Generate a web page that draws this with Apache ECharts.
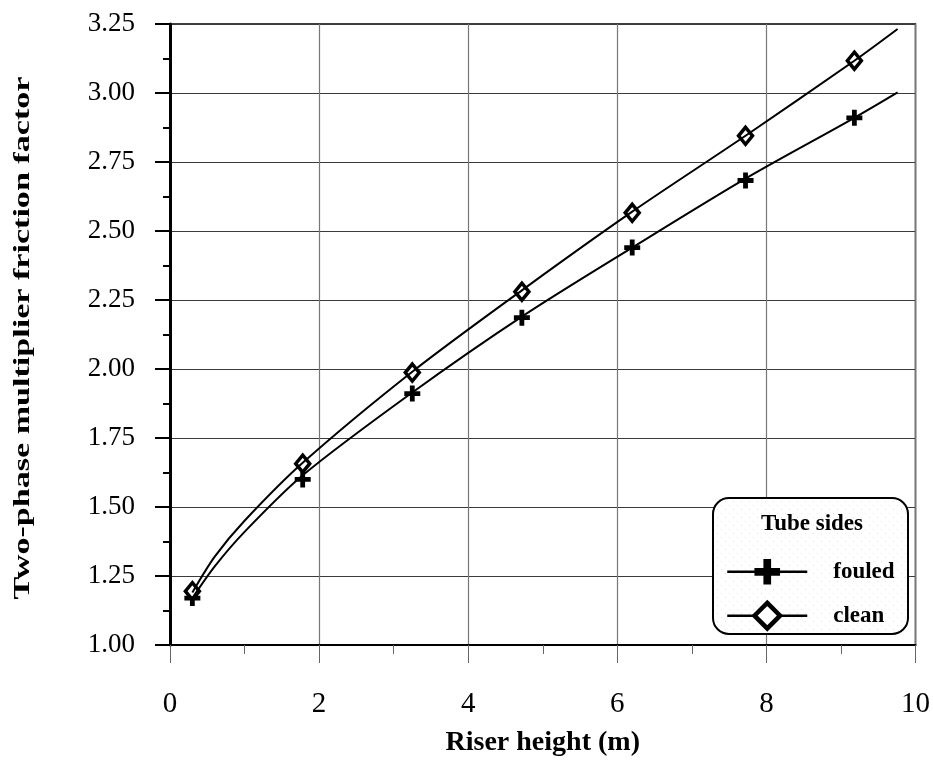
<!DOCTYPE html>
<html>
<head>
<meta charset="utf-8">
<script src="https://cdn.jsdelivr.net/npm/echarts@6/dist/echarts.min.js"></script>
<style>
  html, body { margin: 0; padding: 0; background: #fff; }
  #chart { width: 933px; height: 762px; }
</style>
</head>
<body>
<div id="chart"></div>
<script>
// measured points (markers)
const riserHeight = [0.3, 1.78, 3.25, 4.72, 6.2, 7.72, 9.18];
const fouled = [1.17, 1.6, 1.911, 2.186, 2.44, 2.683, 2.91];
const clean = [1.195, 1.657, 1.987, 2.28, 2.566, 2.845, 3.117];

// fitted curves
const fitHeight = [0.3, 0.6, 1.0, 1.78, 3.25, 4.72, 6.2, 7.72, 9.18, 9.76];
const fouledFit = [1.17, 1.285, 1.41, 1.615, 1.915, 2.19, 2.44, 2.69, 2.91, 3.002];
const cleanFit = [1.19, 1.32, 1.45, 1.66, 1.99, 2.285, 2.57, 2.845, 3.117, 3.232];

const FONT = "'Liberation Serif', 'Times New Roman', serif";
const PLUS = 'path://M35,0H65V35H100V65H65V100H35V65H0V35H35Z';

const pair = (xs, ys) => xs.map((x, i) => [x, ys[i]]);

// faint dotted fill of the legend box
const dots = document.createElement('canvas');
dots.width = 8; dots.height = 8;
const dctx = dots.getContext('2d');
dctx.fillStyle = '#fff';
dctx.fillRect(0, 0, 8, 8);
dctx.fillStyle = '#e4e4e4';
dctx.fillRect(1, 1, 1, 1);
dctx.fillRect(5, 5, 1, 1);

const chart = echarts.init(document.getElementById('chart'));

const option = {
  animation: false,
  backgroundColor: '#fff',
  grid: {
    left: 170, right: 17, top: 24, bottom: 116,
    show: true, borderColor: '#000', borderWidth: 1.5
  },
  xAxis: {
    type: 'value', min: 0, max: 10, interval: 2,
    name: 'Riser height (m)',
    nameLocation: 'middle',
    nameGap: 84,
    nameTextStyle: { fontFamily: FONT, fontWeight: 'bold', fontSize: 28, color: '#000' },
    axisLine: { lineStyle: { color: '#000', width: 2 } },
    axisTick: { show: true, length: 18, lineStyle: { color: '#666', width: 1 } },
    minorTick: { show: true, splitNumber: 2, length: 9, lineStyle: { color: '#666', width: 1 } },
    splitLine: { show: true, lineStyle: { color: '#777', width: 1.2 } },
    axisLabel: { fontFamily: FONT, fontSize: 29, color: '#000', margin: 45 }
  },
  yAxis: {
    type: 'value', min: 1, max: 3.25, interval: 0.25,
    axisLine: { show: true, lineStyle: { color: '#000', width: 3 } },
    axisTick: { show: true, length: 15, lineStyle: { color: '#000', width: 2 } },
    minorTick: { show: true, splitNumber: 2, length: 7, lineStyle: { color: '#000', width: 2 } },
    splitLine: { show: true, lineStyle: { color: '#3a3a3a', width: 1.2 } },
    axisLabel: {
      fontFamily: FONT, fontSize: 27, color: '#000', margin: 35,
      formatter: v => v.toFixed(2)
    }
  },
  legend: {
    orient: 'vertical',
    left: 721, top: 554,
    itemWidth: 80, itemHeight: 32, itemGap: 16,
    selectedMode: false,
    data: ['fouled', 'clean'],
    lineStyle: { width: 2.5 },
    itemStyle: { borderWidth: 'inherit' },
    textStyle: { fontFamily: FONT, fontWeight: 'bold', fontSize: 23, color: '#000', padding: [0, 0, 0, 21] }
  },
  graphic: [
    {
      type: 'rect', z: 3,
      shape: { x: 713, y: 498, width: 195, height: 136, r: 16 },
      style: { fill: { image: dots, repeat: 'repeat' }, stroke: '#000', lineWidth: 2 }
    },
    {
      type: 'text', z: 4, x: 812, y: 524,
      style: { text: 'Tube sides', font: "bold 23px " + FONT, fill: '#000', align: 'center', verticalAlign: 'middle' }
    },
    {
      type: 'text', z: 4, x: 23, y: 338,
      rotation: Math.PI / 2, scaleX: 1.42, scaleY: 1,
      style: {
        text: 'Two-phase multiplier friction factor',
        font: "bold 24px " + FONT, fill: '#000', align: 'center', verticalAlign: 'middle'
      }
    }
  ],
  series: [
    {
      name: 'fouled', type: 'line', smooth: 0.3,
      showSymbol: false, symbol: PLUS,
      itemStyle: { color: '#000', borderWidth: 0 },
      lineStyle: { color: '#000', width: 2 },
      emphasis: { disabled: true },
      data: pair(fitHeight, fouledFit)
    },
    {
      name: 'clean', type: 'line', smooth: 0.3,
      showSymbol: false, symbol: 'diamond',
      itemStyle: { color: '#fff', borderColor: '#000', borderWidth: 4.5 },
      lineStyle: { color: '#000', width: 2 },
      emphasis: { disabled: true },
      data: pair(fitHeight, cleanFit)
    },
    {
      name: 'fouled', type: 'scatter',
      symbol: PLUS, symbolSize: 16,
      itemStyle: { color: '#000', opacity: 1 },
      emphasis: { disabled: true },
      data: pair(riserHeight, fouled)
    },
    {
      name: 'clean', type: 'scatter',
      symbol: 'diamond', symbolSize: [14, 17],
      itemStyle: { color: '#fff', borderColor: '#000', borderWidth: 3.5, opacity: 1 },
      emphasis: { disabled: true },
      data: pair(riserHeight, clean)
    }
  ]
};

chart.setOption(option);
</script>
</body>
</html>
